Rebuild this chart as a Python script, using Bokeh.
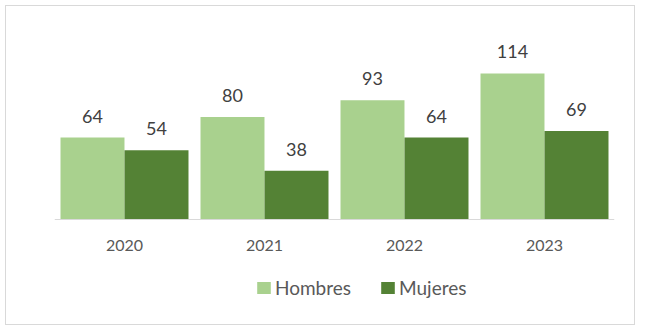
from bokeh.plotting import figure
from bokeh.models import (ColumnDataSource, FactorRange, Range1d, Legend, LegendItem, LabelSet)
from bokeh.core.properties import value
from bokeh.transform import dodge
from bokeh.embed import file_html
from bokeh.resources import INLINE

years = ["2020", "2021", "2022", "2023"]
hombres = [64, 80, 93, 114]
mujeres = [54, 38, 64, 69]

src = ColumnDataSource(dict(
    years=years, hombres=hombres, mujeres=mujeres,
    hl=[str(v) for v in hombres], ml=[str(v) for v in mujeres],
))

FONT = "Lato"
p = figure(width=630, height=320, x_range=FactorRange(*years), y_range=Range1d(-71.04, 155.35),
           output_backend="svg", toolbar_location=None,
           min_border_left=48, min_border_right=22, min_border_top=14, min_border_bottom=16,
           styles={"margin-left": "5px", "margin-top": "5px", "border": "1px solid #D9D9D9"})
p.outline_line_color = None
p.grid.visible = False
p.yaxis.visible = False
p.xaxis.fixed_location = 0
p.xaxis.major_tick_line_color = None
p.xaxis.minor_tick_line_color = None
p.xaxis.axis_line_color = "#D9D9D9"
p.xaxis.axis_line_width = 1
p.xaxis.major_label_text_font = FONT
p.xaxis.major_label_text_font_size = "16px"
p.xaxis.major_label_text_color = "#595959"
p.xaxis.major_label_standoff = 15

off = 0.2286
bw = 0.457
r1 = p.vbar(x=dodge("years", -off, range=p.x_range), top="hombres", width=bw, source=src,
            fill_color="#A9D18E", line_color=None)
r2 = p.vbar(x=dodge("years", off, range=p.x_range), top="mujeres", width=bw, source=src,
            fill_color="#548235", line_color=None)

for xo, ycol, tcol in ((-off, "hombres", "hl"), (off, "mujeres", "ml")):
    ls = LabelSet(x=dodge("years", xo, range=p.x_range), y=ycol,
                  text=tcol, source=src, y_offset=15, text_align="center", text_baseline="alphabetic",
                  text_font=value(FONT), text_font_size=value("18px"), text_color="#404040")
    p.add_layout(ls)

legend = Legend(items=[LegendItem(label="Hombres", renderers=[r1]),
                       LegendItem(label="Mujeres", renderers=[r2])],
                orientation="horizontal", location=(201, 11.5), margin=0, padding=0,
                glyph_width=17, glyph_height=15, label_height=15, label_standoff=3, spacing=28,
                label_text_font=FONT, label_text_font_size="19px", label_text_color="#595959",
                border_line_color=None, background_fill_alpha=0)
p.add_layout(legend, "center")

open("out.html", "w").write(file_html(p, INLINE))
